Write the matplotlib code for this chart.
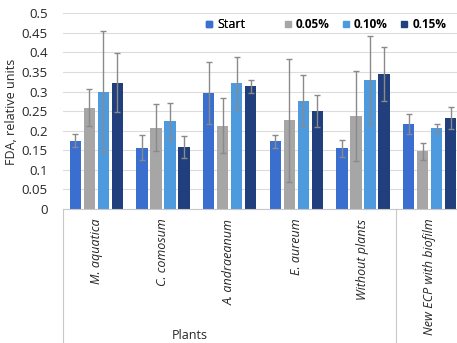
import matplotlib
matplotlib.use("Agg")
import matplotlib.pyplot as plt
import matplotlib.lines as mlines
import numpy as np

plt.rcParams['font.family'] = ['Open Sans', 'DejaVu Sans']

categories = ["M. aquatica", "C. comosum", "A. andraeanum", "E. aureum",
              "Without plants", "New ECP with biofilm"]
series_names = ["Start", "0.05%", "0.10%", "0.15%"]
start = [0.175, 0.157, 0.296, 0.173, 0.155, 0.217]
start_err = [0.016, 0.033, 0.079, 0.016, 0.021, 0.026]
c005 = [0.259, 0.208, 0.213, 0.227, 0.238, 0.147]
c005_err = [0.048, 0.061, 0.070, 0.157, 0.115, 0.021]
c010 = [0.300, 0.226, 0.322, 0.277, 0.329, 0.207]
c010_err = [0.155, 0.046, 0.066, 0.065, 0.113, 0.009]
c015 = [0.323, 0.159, 0.313, 0.250, 0.345, 0.232]
c015_err = [0.075, 0.028, 0.017, 0.041, 0.068, 0.028]
yticks = [0, 0.05, 0.1, 0.15, 0.2, 0.25, 0.3, 0.35, 0.4, 0.45, 0.5]
ytick_labels = ["0", "0.05", "0.1", "0.15", "0.2", "0.25", "0.3", "0.35", "0.4", "0.45", "0.5"]

COLORS = ['#3B6FCF', '#A6A6A6', '#4E9ADF', '#213F7C']

W, H = 457, 343
fig = plt.figure(figsize=(W / 100, H / 100), dpi=100)
ax = fig.add_axes([63 / W, (H - 209) / H, 400 / W, 195.7 / H])

x = np.arange(len(categories))
width = 0.17
offsets = [-0.315, -0.105, 0.105, 0.315]
values = [start, c005, c010, c015]
errors = [start_err, c005_err, c010_err, c015_err]
for vals, errs, off, col in zip(values, errors, offsets, COLORS):
    ax.bar(x + off, vals, width, color=col, zorder=2)
    ax.errorbar(x + off, vals, yerr=errs, fmt='none', ecolor='#8A8A8A',
                elinewidth=1, capsize=2, capthick=1, zorder=3)

ax.set_xlim(-0.5, 5.5)
ax.set_ylim(0, 0.5)
ax.set_yticks(yticks, ytick_labels)
ax.yaxis.grid(True, color='#DCDCDC', lw=0.8, zorder=0)
ax.set_axisbelow(True)
for s in ['left', 'right', 'top']:
    ax.spines[s].set_visible(False)
ax.spines['bottom'].set_color('#C8C8C8')
ax.tick_params(axis='y', length=0, pad=11, labelsize=9.5, labelcolor='#262626')
ax.set_xticks(x, categories, rotation=90, fontstyle='italic', fontsize=9)
ax.tick_params(axis='x', length=0, pad=7, labelcolor='#262626')

# category separators below the axis
xt = ax.get_xaxis_transform()
for xs in [-0.5, 4.5]:
    ax.plot([xs, xs], [0, -0.75], transform=xt, color='#C8C8C8', lw=0.8, clip_on=False)

ax.text(1.405, -0.644, "Plants", transform=xt, ha='center', va='center',
        fontsize=9, color='#262626')
fig.text(12 / W, 1 - 112 / H, "FDA, relative units", rotation=90,
         ha='center', va='center', fontsize=9, color='#262626')

handles = [mlines.Line2D([], [], color=c, marker='s', linestyle='None',
                         markersize=5, label=n) for c, n in zip(COLORS, series_names)]
leg1 = fig.legend(handles=handles[:1], loc='center left',
                  bbox_to_anchor=(204 / W, 1 - 25 / H), frameon=False,
                  handlelength=0.8, handletextpad=0.3,
                  borderpad=0, borderaxespad=0, prop={'size': 9})
fig.add_artist(leg1)
leg2 = fig.legend(handles=handles[1:], loc='center left', ncol=3,
                  bbox_to_anchor=(283 / W, 1 - 25 / H), frameon=False,
                  handlelength=0.8, handletextpad=0.3,
                  columnspacing=0.95, borderpad=0, borderaxespad=0,
                  prop={'weight': 'bold', 'size': 8.5})

fig.savefig("out.png", dpi=100)
